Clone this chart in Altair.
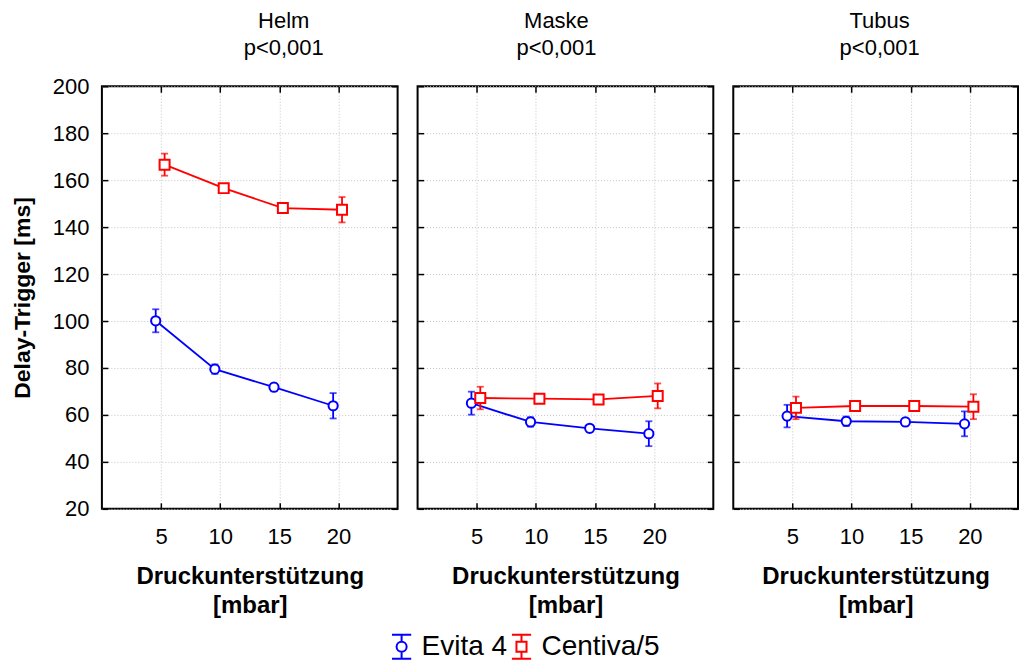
import altair as alt
import pandas as pd

# Panels (patient interface) and their significance labels
panels = ["Helm", "Maske", "Tubus"]
p_values = ["p<0,001", "p<0,001", "p<0,001"]
devices = ["Evita 4", "Centiva/5"]
pressure = [5, 10, 15, 20]
y_ticks = [20, 40, 60, 80, 100, 120, 140, 160, 180, 200]

# Mean trigger delay [ms] and half-width of the error bars
helm_evita = [100.1, 79.5, 71.8, 63.9]
helm_evita_err = [4.9, 2.0, 1.5, 5.4]
helm_centiva = [166.6, 156.6, 148.1, 147.4]
helm_centiva_err = [4.7, 1.5, 1.0, 5.4]

maske_evita = [65.0, 57.0, 54.3, 52.0]
maske_evita_err = [4.9, 2.0, 1.5, 5.3]
maske_centiva = [67.2, 66.9, 66.6, 68.1]
maske_centiva_err = [4.8, 1.5, 1.5, 5.3]

tubus_evita = [59.5, 57.3, 57.0, 56.2]
tubus_evita_err = [4.8, 2.0, 1.5, 5.3]
tubus_centiva = [63.0, 63.8, 63.8, 63.5]
tubus_centiva_err = [4.8, 1.5, 1.5, 5.3]

series = {
    ("Helm", "Evita 4"): (helm_evita, helm_evita_err),
    ("Helm", "Centiva/5"): (helm_centiva, helm_centiva_err),
    ("Maske", "Evita 4"): (maske_evita, maske_evita_err),
    ("Maske", "Centiva/5"): (maske_centiva, maske_centiva_err),
    ("Tubus", "Evita 4"): (tubus_evita, tubus_evita_err),
    ("Tubus", "Centiva/5"): (tubus_centiva, tubus_centiva_err),
}

rows = []
for (panel_name, dev), (means, errs) in series.items():
    for pr, m, e in zip(pressure, means, errs):
        rows.append({"panel": panel_name, "device": dev, "pressure": pr, "mean": m, "err": e})
df = pd.DataFrame(rows)

FONT = "Liberation Sans"
GRID = "#c4c4c4"
device_colors = {"Evita 4": "#0000ff", "Centiva/5": "#ff0000"}
device_shapes = {"Evita 4": ("circle", 85), "Centiva/5": ("square", 100)}
device_dodge = {"Evita 4": -0.45, "Centiva/5": 0.3}

# legend glyphs: marker with error bar whiskers and caps
circle_glyph = (
    "M-0.8,-1H0.8M0,-1V-0.42M0,0.42V1M-0.8,1H0.8"
    "M0.42,0A0.42,0.42 0 1,1 -0.42,0A0.42,0.42 0 1,1 0.42,0Z"
)
square_glyph = (
    "M-0.8,-1H0.8M0,-1V-0.42M0,0.42V1M-0.8,1H0.8"
    "M-0.42,-0.42H0.42V0.42H-0.42Z"
)


def make_panel(idx, width, xmax, title_dx, title_offset):
    name = panels[idx]
    first = idx == 0
    base = alt.Chart(df).transform_filter(
        alt.datum.panel == name
    ).transform_calculate(
        xpos="datum.pressure + (datum.device == 'Evita 4' ? %s : %s)"
        % (device_dodge["Evita 4"], device_dodge["Centiva/5"]),
        lo="datum.mean - datum.err",
        hi="datum.mean + datum.err",
    )

    x_scale = alt.Scale(domain=[0, xmax], nice=False, zero=False)
    y_scale = alt.Scale(domain=[20, 200], nice=False, zero=False)

    x_bottom = alt.Axis(
        orient="bottom", values=pressure, format="d", offset=-6,
        tickSize=6, tickWidth=1.5, tickColor="black", domain=False,
        grid=True, gridDash=[1, 2], gridColor=GRID, gridWidth=1,
        labelFontSize=22, labelPadding=18, labelColor="black", labelFlush=False,
        title=["Druckunterstützung", "[mbar]"], titleFontSize=24,
        titleFontWeight="bold", titleColor="black", titleLineHeight=29,
        titlePadding=17,
    )
    y_left = alt.Axis(
        orient="left", values=y_ticks, format="d", offset=-6,
        tickSize=6, tickWidth=1.5, tickColor="black", domain=False,
        grid=True, gridDash=[1, 2], gridColor=GRID, gridWidth=1,
        labels=first, labelFontSize=22, labelPadding=13, labelColor="black",
        title="Delay-Trigger [ms]" if first else None,
        titleFontSize=23, titleFontWeight="bold", titleColor="black",
        titlePadding=18,
    )
    x_top = alt.Axis(
        orient="top", values=pressure, offset=-6, tickSize=6, tickWidth=1.5,
        tickColor="black", domain=False, grid=False, labels=False, title=None,
    )
    y_right = alt.Axis(
        orient="right", values=y_ticks, offset=-6, tickSize=6, tickWidth=1.5,
        tickColor="black", domain=False, grid=False, labels=False, title=None,
    )

    layers = []
    for k, dev in enumerate(devices):
        col = device_colors[dev]
        sub = base.transform_filter(alt.datum.device == dev)
        with_axes = k == 0
        layers.append(sub.mark_line(strokeWidth=1.8, color=col).encode(
            x=alt.X("xpos:Q", scale=x_scale, axis=x_bottom if with_axes else None),
            y=alt.Y("mean:Q", scale=y_scale, axis=y_left if with_axes else None),
        ))
        layers.append(sub.mark_rule(strokeWidth=1.8, color=col).encode(
            x=alt.X("xpos:Q", scale=x_scale, axis=x_top if with_axes else None),
            y=alt.Y("lo:Q", scale=y_scale, axis=y_right if with_axes else None),
            y2="hi:Q",
        ))
        layers.append(sub.transform_fold(["lo", "hi"], as_=["end", "yv"]).mark_tick(
            orient="horizontal", size=7, thickness=1.8, color=col
        ).encode(
            x=alt.X("xpos:Q", scale=x_scale, axis=None),
            y=alt.Y("yv:Q", scale=y_scale, axis=None),
        ))
    for dev in devices:
        shp, sz = device_shapes[dev]
        layers.append(base.transform_filter(alt.datum.device == dev).mark_point(
            shape=shp, size=sz, filled=True, fill="white",
            stroke=device_colors[dev], strokeWidth=2, opacity=1,
        ).encode(
            x=alt.X("xpos:Q", scale=x_scale, axis=None),
            y=alt.Y("mean:Q", scale=y_scale, axis=None),
        ))

    legend_cfg = dict(
        title=None, orient="none", legendX=286, legendY=547,
        direction="horizontal", labelFontSize=28, labelColor="black",
        labelFont=FONT, symbolSize=576, symbolStrokeWidth=2, symbolOpacity=1,
        symbolFillColor="transparent", labelOffset=6, columnPadding=0,
        padding=0, rowPadding=0,
    )
    layers.append(base.mark_point(opacity=0, filled=False, strokeWidth=2).encode(
        x=alt.X("xpos:Q", scale=x_scale, axis=None),
        y=alt.Y("mean:Q", scale=y_scale, axis=None),
        shape=alt.Shape(
            "device:N",
            scale=alt.Scale(domain=devices, range=[circle_glyph, square_glyph]),
            legend=alt.Legend(**legend_cfg),
        ),
        stroke=alt.Stroke(
            "device:N",
            scale=alt.Scale(domain=devices, range=[device_colors[d] for d in devices]),
            legend=alt.Legend(**legend_cfg),
        ),
    ))

    return alt.layer(*layers).resolve_axis(
        x="independent", y="independent"
    ).properties(
        width=width,
        height=423,
        title=alt.TitleParams(
            [name, p_values[idx]], fontSize=22, fontWeight="normal",
            anchor="middle", dx=title_dx, color="black", font=FONT,
            lineHeight=27, offset=title_offset,
        ),
    )


chart = alt.hconcat(
    make_panel(0, 296, 25, 34, 15),
    make_panel(1, 296, 25, -9, 26),
    make_panel(2, 285, 25 * 285 / 296, 4, 26),
    spacing=20,
    bounds="flush",
).configure(
    font=FONT,
).configure_view(
    stroke="black", strokeWidth=2,
).properties(
    padding={"left": 10, "top": 8, "right": 0, "bottom": 0},
)

chart.save("out.html", embed_options={"renderer": "svg", "actions": False})
